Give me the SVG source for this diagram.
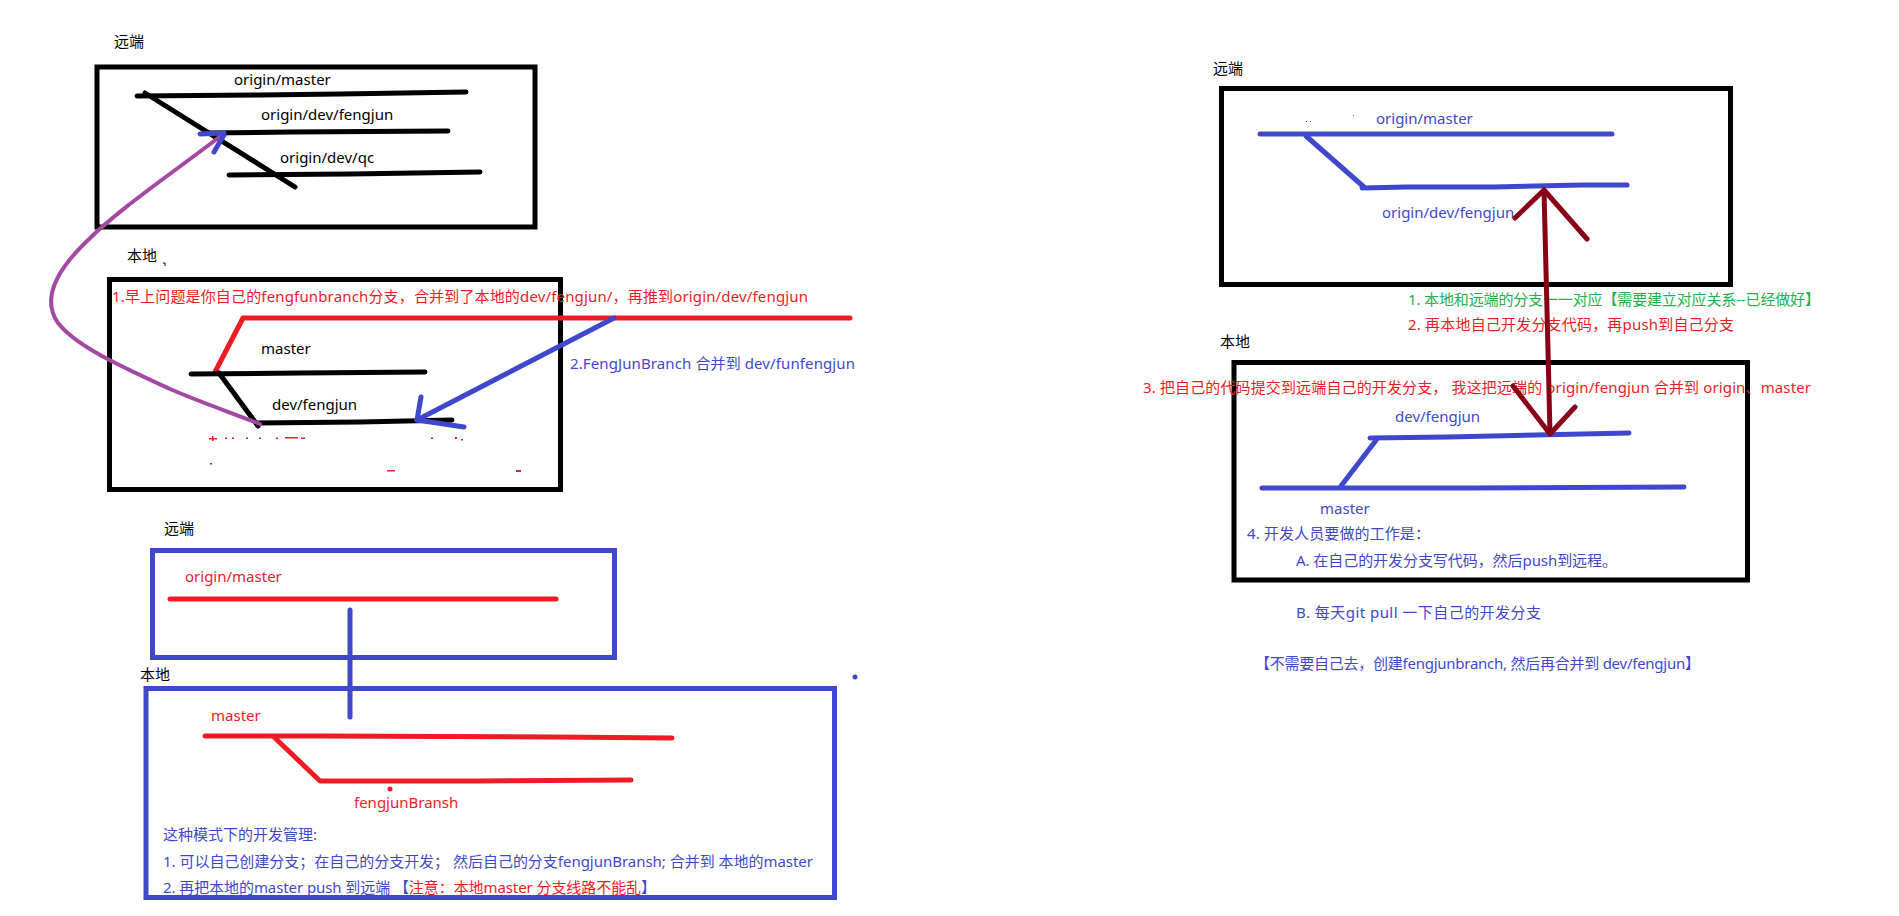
<svg xmlns="http://www.w3.org/2000/svg" width="1899" height="916" viewBox="0 0 1899 916">
<style>
.t{font-family:"Noto Sans","Noto Sans CJK SC",sans-serif;font-size:15px}
.lbl{font-family:"Noto Sans CJK SC","Noto Sans",sans-serif;font-size:15px;fill:#000}
.k{fill:#000}.b{fill:#3f48cc}.r{fill:#ed1c24}.g{fill:#22b14c}
.boxk{fill:none;stroke:#000;stroke-width:5}
.boxb{fill:none;stroke:#3f48cc;stroke-width:5}
.lk,.lb,.lr,.lp,.ld{fill:none;stroke-width:5;stroke-linecap:round;stroke-linejoin:round}
.lk{stroke:#000}.lb{stroke:#3f48cc}.lr{stroke:#ed1c24}.lp{stroke:#a349a4;stroke-width:4}.ld{stroke:#880015}
.art{fill:#ed1c24}
</style>
<rect width="1899" height="916" fill="#fff"/>

<g id="remote-top-left">
<text class="lbl" x="114" y="47">远端</text>
<rect class="boxk" x="97" y="67" width="438" height="160"/>
<polyline class="lk" points="137,96 260,95 340,94 466,92"/>
<line class="lk" x1="145" y1="93" x2="295" y2="187"/>
<polyline class="lk" points="205,133 290,132 448,131"/>
<polyline class="lk" points="229,175 350,174 480,172"/>
<text class="t k" x="234" y="85">origin/master</text>
<text class="t k" x="261" y="120">origin/dev/fengjun</text>
<text class="t k" x="280" y="163">origin/dev/qc</text>
</g>

<g id="local-top-left">
<text class="lbl" x="127" y="261">本地</text>
<path d="M163,263 h2 v3" fill="none" stroke="#000" stroke-width="1"/>
<rect class="boxk" x="109.5" y="279.5" width="451" height="210"/>
<polyline class="lr" points="215,372 243,318 850,318"/>
<polyline class="lk" points="191,374 300,373 425,372"/>
<line class="lk" x1="219" y1="373" x2="258" y2="426"/>
<polyline class="lk" points="256,423 360,422 452,420"/>
<text class="t r" x="112" y="302" textLength="696">1.早上问题是你自己的fengfunbranch分支，合并到了本地的dev/fengjun/，再推到origin/dev/fengjun</text>
<text class="t k" x="261" y="354">master</text>
<text class="t k" x="272" y="410">dev/fengjun</text>
<text class="t b" x="570" y="369" textLength="285">2.FengJunBranch 合并到 dev/funfengjun</text>
<g id="erased-marks">
<rect class="art" x="209" y="438" width="8" height="1.5"/><rect class="art" x="212" y="436" width="1.5" height="5"/>
<rect class="art" x="225" y="437.5" width="2" height="1.5"/><rect class="art" x="232" y="437.5" width="2" height="1.5"/>
<rect class="art" x="246" y="437.5" width="2" height="1.5"/><rect class="art" x="259" y="437.5" width="2" height="1.5"/>
<rect class="art" x="276" y="437.5" width="2" height="1.5"/><rect class="art" x="285" y="437" width="13" height="1.5"/>
<rect class="art" x="301" y="437.5" width="4" height="1.5"/><rect class="art" x="431" y="437.5" width="2" height="1.5"/>
<rect class="art" x="455" y="437" width="2" height="2"/><rect class="art" x="461" y="439" width="2" height="1.5"/>
<rect class="art" x="210" y="463" width="2" height="1.5"/><rect class="art" x="387" y="470" width="8" height="1.5"/>
<rect class="art" x="516" y="470" width="5" height="2"/>
</g>
</g>

<g id="remote-bottom-left">
<text class="lbl" x="164" y="534">远端</text>
<rect class="boxb" x="152.5" y="550.5" width="462" height="107"/>
<line class="lr" x1="170" y1="599" x2="556" y2="599"/>
<text class="t r" x="185" y="582">origin/master</text>
</g>

<g id="local-bottom-left">
<text class="lbl" x="140" y="680">本地</text>
<rect class="boxb" x="146" y="688.5" width="688.5" height="209"/>
<circle cx="855" cy="677" r="2.5" fill="#3f48cc"/>
<polyline class="lr" points="205,736 321,736 554,737 672,738"/>
<polyline class="lr" points="274,737 320,781 479,781 631,780"/>
<circle cx="390" cy="789" r="2.5" fill="#ed1c24"/>
<text class="t r" x="211" y="721">master</text>
<text class="t r" x="354" y="808">fengjunBransh</text>
<text class="t b" x="163" y="840">这种模式下的开发管理:</text>
<text class="t b" x="163" y="867" textLength="650">1. 可以自己创建分支；在自己的分支开发；  然后自己的分支fengjunBransh; 合并到 本地的master</text>
<text class="t b" x="163" y="893" textLength="493">2. 再把本地的master push 到远端  【<tspan class="r">注意：本地master 分支线路不能乱</tspan>】</text>
</g>

<g id="remote-right">
<text class="lbl" x="1213" y="74">远端</text>
<rect class="boxk" x="1221.5" y="88.5" width="509" height="196"/>
<line class="lb" x1="1260" y1="134" x2="1612" y2="134"/>
<line class="lb" x1="1306" y1="136" x2="1364" y2="187"/>
<polyline class="lb" points="1362,188 1407,187 1494,187 1582,185 1627,185"/>
<rect x="1306" y="121" width="1" height="1" fill="#3f48cc"/><rect x="1310" y="121" width="1" height="1" fill="#3f48cc"/><rect x="1353" y="115" width="1" height="1" fill="#3f48cc"/>
<text class="t b" x="1376" y="124">origin/master</text>
<text class="t b" x="1382" y="218">origin/dev/fengjun</text>
<text class="t g" x="1408" y="305" textLength="412">1. 本地和远端的分支一一对应【需要建立对应关系--已经做好】</text>
<text class="t r" x="1408" y="330" textLength="326">2.  再本地自己开发分支代码，再push到自己分支</text>
</g>

<g id="local-right">
<text class="lbl" x="1220" y="347">本地</text>
<rect class="boxk" x="1234" y="362.5" width="513.5" height="217.5"/>
<polyline class="lb" points="1370,438 1448,437 1629,433"/>
<line class="lb" x1="1377" y1="439" x2="1341" y2="486"/>
<polyline class="lb" points="1262,488 1474,488 1684,487"/>
<text class="t r" x="1143" y="393" textLength="668">3.  把自己的代码提交到远端自己的开发分支，  我这把远端的 origin/fengjun 合并到 origin、master</text>
<text class="t b" x="1395" y="422">dev/fengjun</text>
<text class="t b" x="1320" y="514">master</text>
<text class="t b" x="1247" y="539" textLength="183">4.  开发人员要做的工作是：</text>
<text class="t b" x="1296" y="566" textLength="321">A.  在自己的开发分支写代码，然后push到远程。</text>
<text class="t b" x="1296" y="618" textLength="245">B.   每天git pull 一下自己的开发分支</text>
<text class="t b" x="1255" y="669" textLength="445">【不需要自己去，创建fengjunbranch, 然后再合并到 dev/fengjun】</text>
</g>

<g id="connectors">
<path class="lp" d="M222,135 C170,175 120,208 86,242 C55,272 42,300 58,323 C76,346 120,366 170,389 C200,402 232,413 260,424"/>
<polyline class="lb" points="200,134 224,133"/>
<line class="lb" x1="224" y1="135" x2="214" y2="152"/>
<line class="lb" x1="614" y1="318" x2="417" y2="420"/>
<polyline class="lb" points="421,397 417,420 464,427"/>
<line class="lb" x1="350" y1="610" x2="350" y2="717"/>
<polyline class="ld" points="1544,190 1546,270 1548,350 1550,434"/>
<polyline class="ld" points="1515,218 1544,190 1587,239"/>
<polyline class="ld" points="1513,386 1550,434 1575,407"/>
</g>
</svg>
